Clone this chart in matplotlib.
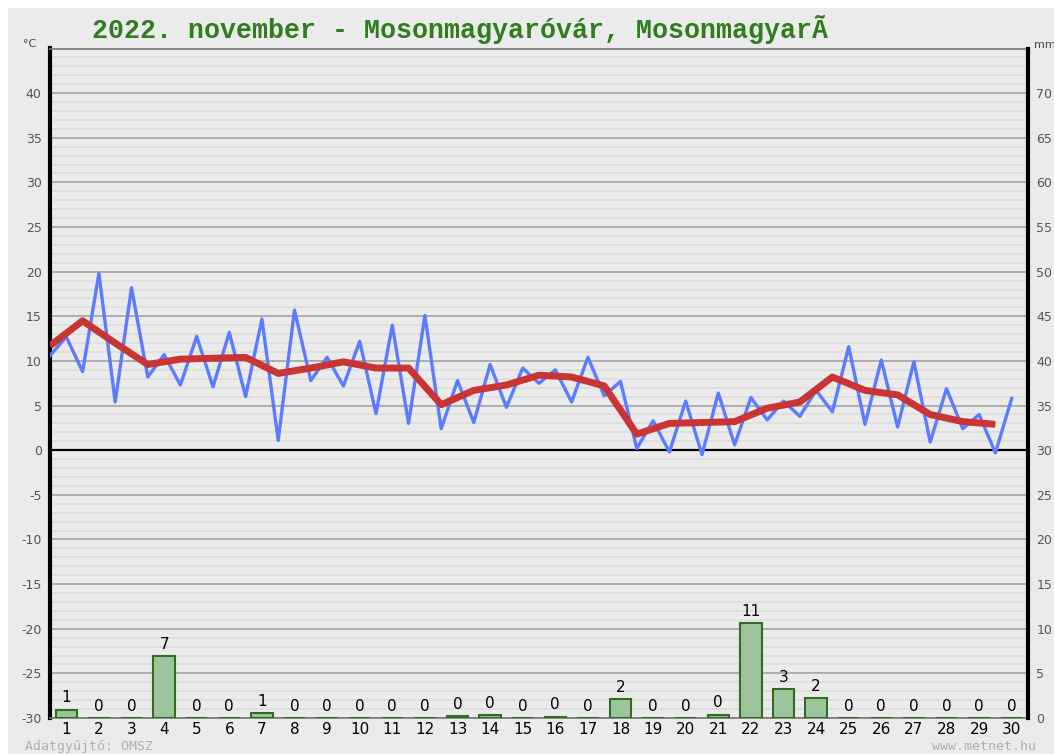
import numpy as np
import matplotlib.pyplot as plt
from matplotlib.patches import Rectangle

plt.rcParams['axes.unicode_minus'] = False

# data
days = np.arange(1, 31)

# temperature every half day, from day 0.5 to day 30 (°C)
temp_halfday = [10.6, 12.7, 8.8, 19.8, 5.4, 18.2, 8.2, 10.7, 7.3, 12.75,
                7.1, 13.2, 6.0, 14.7, 1.1, 15.7, 7.8, 10.4, 7.2, 12.2,
                4.1, 14.0, 3.0, 15.1, 2.4, 7.8, 3.1, 9.6, 4.8, 9.2,
                7.5, 9.0, 5.4, 10.4, 6.1, 7.7, 0.2, 3.3, -0.2, 5.5,
                -0.5, 6.4, 0.6, 5.9, 3.4, 5.5, 3.8, 6.7, 4.3, 11.6,
                2.9, 10.1, 2.6, 9.9, 0.9, 6.9, 2.4, 4.0, -0.3, 5.8]

# daily mean temperature (°C)
temp_mean = [11.7, 14.5, 12.0, 9.6, 10.2, 10.3, 10.4, 8.6, 9.2, 9.9,
             9.2, 9.2, 5.1, 6.7, 7.3, 8.4, 8.2, 7.2, 1.8, 3.0,
             3.1, 3.2, 4.7, 5.4, 8.2, 6.7, 6.2, 4.0, 3.2, 2.9]

# daily precipitation (mm)
precip = [0.95, 0, 0, 6.9, 0, 0, 0.56, 0, 0, 0,
          0, 0, 0.2, 0.3, 0, 0.15, 0, 2.1, 0, 0,
          0.38, 10.6, 3.2, 2.2, 0, 0, 0, 0, 0, 0]

title = "2022. november - Mosonmagyaróvár, MosonmagyarÃ"

W, H = 1054, 754
bg = '#ebebeb'

fig = plt.figure(figsize=(W / 100, H / 100), dpi=100)
fig.patch.set_facecolor('white')
fig.patches.append(Rectangle((8 / W, 0), 1, 1 - 8 / H, transform=fig.transFigure,
                             facecolor=bg, edgecolor='none', zorder=-10))

ax = fig.add_axes([50 / W, 1 - 718 / H, 978 / W, (718 - 48.5) / H])
ax.set_facecolor(bg)
ax.set_xlim(0.5, 30.5)
ax.set_ylim(-30, 45)

# grid: thin light lines every degree, darker every 5
for t in range(-30, 46):
    if t % 5 == 0:
        ax.axhline(t, color='#a8a8a8', lw=1.3, zorder=1)
    else:
        ax.axhline(t, color='#dcdcdc', lw=1.1, zorder=1)
ax.axhline(0, color='black', lw=1.6, zorder=2)

x_half = np.arange(1, 61) / 2
ax.plot(x_half, temp_halfday, color='#5b7cff', lw=2.4, zorder=4)
ax.plot(days - 0.5, temp_mean, color='#c93434', lw=5, zorder=5,
        solid_capstyle='butt')

ax.set_yticks(range(-30, 45, 5))
ax.set_xticks(days)
ax.tick_params(axis='y', length=0, labelsize=9, labelcolor='#555555', pad=6)
ax.tick_params(axis='x', length=0, labelsize=11, labelcolor='black', pad=3)

ax.spines['left'].set_linewidth(3)
ax.spines['left'].set_color('black')
for s in ['top', 'bottom']:
    ax.spines[s].set_linewidth(1.2)
    ax.spines[s].set_color('#777777')

# precipitation on the right-hand mm axis
ax2 = ax.twinx()
ax2.set_ylim(0, 75)
ax2.bar(days, precip, width=0.66, color='#9dc49b', edgecolor='#2f6e1e',
        linewidth=1.5, zorder=3)
for d, p in zip(days, precip):
    ax2.text(d, p + 0.5, str(int(p + 0.5)), ha='center', va='bottom',
             fontsize=11, color='black')
ax2.set_yticks(range(0, 75, 5))
ax2.tick_params(axis='y', length=0, labelsize=9, labelcolor='#555555', pad=6)
ax2.spines['right'].set_linewidth(3)
ax2.spines['right'].set_color('black')
ax2.spines['left'].set_visible(False)
ax2.spines['top'].set_visible(False)
ax2.spines['bottom'].set_visible(False)

fig.text(460 / W, 1 - 30 / H, title, ha='center', va='center',
         family='Liberation Mono', weight='bold', color='#2f7d1f', fontsize=19.2)
fig.text(30 / W, 1 - 44 / H, '°C', ha='center', va='center', fontsize=8,
         color='#444444')
fig.text(1034 / W, 1 - 45 / H, 'mm', ha='left', va='center', fontsize=8,
         color='#444444')
fig.text(25 / W, 1 - 746 / H, 'Adatgyűjtő: OMSZ', ha='left', va='center',
         family='DejaVu Sans Mono', fontsize=9.5, color='#b0b0b0')
fig.text(1036 / W, 1 - 746 / H, 'www.metnet.hu', ha='right', va='center',
         family='DejaVu Sans Mono', fontsize=9.5, color='#b0b0b0')

fig.savefig('out.png', dpi=100, facecolor=fig.get_facecolor())
